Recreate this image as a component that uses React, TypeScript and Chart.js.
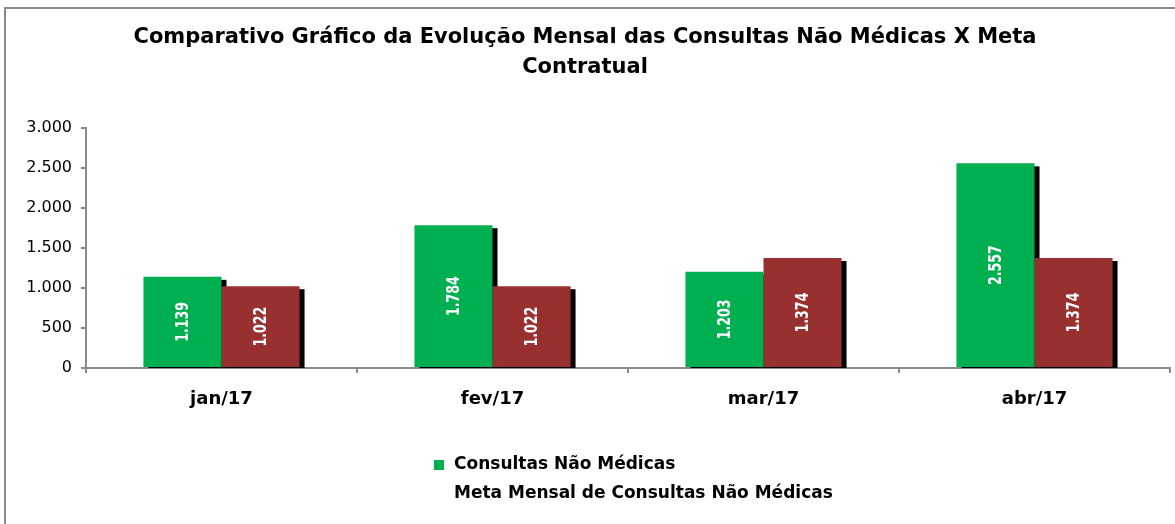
import React, { useEffect, useRef } from "react";
import { Chart, registerables } from "chart.js";

Chart.register(...registerables);

const categories = ["jan/17", "fev/17", "mar/17", "abr/17"];
const consultas = [1139, 1784, 1203, 2557];
const meta = [1022, 1022, 1374, 1374];
const seriesNames = ["Consultas Não Médicas", "Meta Mensal de Consultas Não Médicas"];
const titleLines = [
  "Comparativo Gráfico da Evolução Mensal das Consultas Não Médicas X Meta",
  "Contratual",
];
const yTicks = [0, 500, 1000, 1500, 2000, 2500, 3000];

const GREEN = "#00AF50";
const RED = "#993030";

const fmt = (v: number) => v.toLocaleString("de-DE");

const framePlugin = {
  id: "frame",
  beforeDraw(chart: any) {
    const ctx = chart.ctx;
    ctx.save();
    ctx.fillStyle = "#ffffff";
    ctx.fillRect(0, 0, chart.width, chart.height);
    ctx.strokeStyle = "#8a8a8a";
    ctx.lineWidth = 2;
    ctx.beginPath();
    ctx.moveTo(5, chart.height);
    ctx.lineTo(5, 8);
    ctx.lineTo(chart.width, 8);
    ctx.stroke();
    ctx.restore();
  },
};

const shadowPlugin = {
  id: "barShadow",
  beforeDatasetsDraw(chart: any) {
    const ctx = chart.ctx;
    const area = chart.chartArea;
    ctx.save();
    ctx.beginPath();
    ctx.rect(area.left, area.top - 10, area.right - area.left + 20, area.bottom - area.top + 10);
    ctx.clip();
    ctx.fillStyle = "#000000";
    chart.data.datasets.forEach((_: any, di: number) => {
      const m = chart.getDatasetMeta(di);
      m.data.forEach((el: any) => {
        const p = el.getProps(["x", "y", "base", "width"], true);
        const left = p.x - p.width / 2 + 5;
        ctx.fillRect(left, p.y + 3, p.width, p.base - p.y);
      });
    });
    ctx.restore();
  },
  afterDatasetsDraw(chart: any) {
    const ctx = chart.ctx;
    ctx.save();
    ctx.fillStyle = "#ffffff";
    ctx.font = "bold 17px 'DejaVu Sans', sans-serif";
    ctx.textAlign = "center";
    ctx.textBaseline = "middle";
    chart.data.datasets.forEach((ds: any, di: number) => {
      const m = chart.getDatasetMeta(di);
      m.data.forEach((el: any, i: number) => {
        const p = el.getProps(["x", "y", "base"], true);
        ctx.save();
        ctx.translate(p.x, (p.y + p.base) / 2);
        ctx.rotate(-Math.PI / 2);
        ctx.scale(0.74, 1);
        ctx.fillText(fmt(ds.data[i]), 0, 1);
        ctx.restore();
      });
    });
    ctx.restore();
  },
};

const legendPlugin = {
  id: "vertLegend",
  afterDraw(chart: any) {
    const ctx = chart.ctx;
    ctx.save();
    ctx.font = "bold 17px 'DejaVu Sans', sans-serif";
    ctx.textBaseline = "middle";
    ctx.textAlign = "left";
    const rows = [465, 494];
    chart.data.datasets.forEach((ds: any, i: number) => {
      const y = rows[i];
      if (i === 0) {
        ctx.fillStyle = ds.backgroundColor;
        ctx.fillRect(434, y - 5, 10, 10);
      }
      ctx.fillStyle = "#000000";
      ctx.fillText(ds.label, 454, y);
    });
    ctx.restore();
  },
};

export default function App() {
  const ref = useRef<HTMLCanvasElement>(null);
  useEffect(() => {
    if (!ref.current) return;
    const chart = new Chart(ref.current, {
      type: "bar",
      data: {
        labels: categories,
        datasets: [
          { label: seriesNames[0], data: consultas, backgroundColor: GREEN, borderWidth: 0 },
          { label: seriesNames[1], data: meta, backgroundColor: RED, borderWidth: 0 },
        ],
      },
      options: {
        responsive: false,
        animation: false,
        layout: { padding: { left: 0, right: 5, top: 0, bottom: 116 } },
        datasets: { bar: { categoryPercentage: 0.576, barPercentage: 1 } },
        plugins: {
          legend: { display: false },
          tooltip: { enabled: false },
          title: {
            display: true,
            text: titleLines,
            color: "#000000",
            font: { family: "'DejaVu Sans', sans-serif", size: 21, weight: "bold", lineHeight: 1.45 },
            padding: { top: 22, bottom: 45 },
          },
        },
        scales: {
          x: {
            grid: {
              display: true,
              drawOnChartArea: false,
              drawTicks: true,
              tickLength: 5,
              color: "#8a8a8a",
              lineWidth: 2,
              offset: true,
            },
            border: { display: true, color: "#8a8a8a", width: 2 },
            ticks: {
              color: "#000000",
              padding: 16,
              font: { family: "'DejaVu Sans', sans-serif", size: 18, weight: "bold" },
            },
            afterFit(scale: any) {
              scale.height = 40;
            },
          },
          y: {
            min: 0,
            max: 3000,
            afterBuildTicks(scale: any) {
              scale.ticks = yTicks.map((v) => ({ value: v }));
            },
            grid: {
              display: true,
              drawOnChartArea: false,
              drawTicks: true,
              tickLength: 5,
              color: "#8a8a8a",
              lineWidth: 2,
            },
            border: { display: true, color: "#8a8a8a", width: 2 },
            ticks: {
              color: "#000000",
              padding: 9,
              font: { family: "'DejaVu Sans', sans-serif", size: 16 },
              callback: (v: any) => fmt(Number(v)),
            },
            afterFit(scale: any) {
              scale.width = 86;
            },
          },
        },
      },
      plugins: [framePlugin, shadowPlugin, legendPlugin],
    });
    return () => chart.destroy();
  }, []);
  return (
    <div style={{ position: "absolute", left: 0, top: 0, width: 1175, height: 524 }}>
      <canvas ref={ref} width={1175} height={524} style={{ display: "block" }} />
    </div>
  );
}
